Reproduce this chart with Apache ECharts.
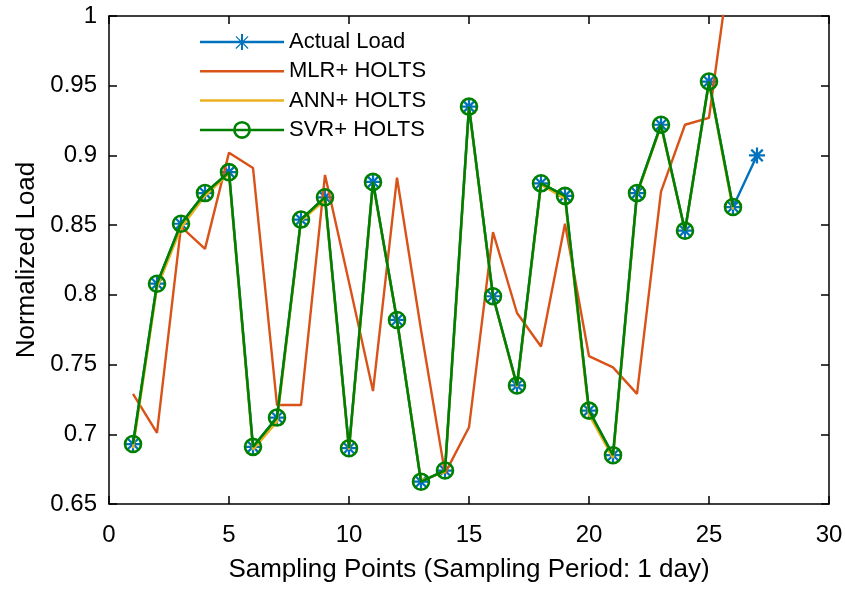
<!DOCTYPE html>
<html>
<head>
<meta charset="utf-8">
<script src="https://cdn.jsdelivr.net/npm/echarts@6/dist/echarts.min.js"></script>
<style>
html,body{margin:0;padding:0;background:#fff;}
#c{width:845px;height:589px;}
</style>
</head>
<body>
<div id="c"></div>
<script>
// Sampling points (x)
const samplePoints = [1,2,3,4,5,6,7,8,9,10,11,12,13,14,15,16,17,18,19,20,21,22,23,24,25,26,27];
// Actual load (27 points)
const actualLoad = [0.693,0.808,0.851,0.873,0.888,0.691,0.712,0.854,0.870,0.690,0.881,0.782,0.666,0.674,0.935,0.799,0.735,0.880,0.871,0.717,0.685,0.873,0.922,0.846,0.953,0.863,0.900];
// MLR + HOLTS forecast (26 points)
const mlrHolts = [0.729,0.701,0.849,0.833,0.902,0.891,0.721,0.721,0.886,0.809,0.731,0.884,0.775,0.672,0.705,0.845,0.787,0.763,0.851,0.756,0.748,0.729,0.874,0.922,0.927,1.052];
// ANN + HOLTS forecast (26 points)
const annHolts = [0.690,0.805,0.848,0.871,0.887,0.689,0.709,0.853,0.868,0.689,0.880,0.782,0.667,0.673,0.934,0.799,0.734,0.879,0.869,0.714,0.683,0.872,0.921,0.846,0.952,0.861];
// SVR + HOLTS forecast (26 points)
const svrHolts = [0.693,0.808,0.851,0.873,0.888,0.691,0.712,0.854,0.870,0.690,0.881,0.782,0.666,0.674,0.935,0.799,0.735,0.880,0.871,0.717,0.685,0.873,0.922,0.846,0.953,0.863];
// Axis ticks
const xTicks = [0,5,10,15,20,25,30];
const yTicks = [0.65,0.7,0.75,0.8,0.85,0.9,0.95,1];

const seriesNames = ['Actual Load','MLR+ HOLTS','ANN+ HOLTS','SVR+ HOLTS'];
const colors = ['#0072BD','#D95319','#EDB120','#008000'];

function pairs(vals){ return vals.map((v,i)=>[samplePoints[i], v]); }

const asterisk = 'path://M43 0L57 0L57 100L43 100Z M0 43L100 43L100 57L0 57Z M19 9L91 81L81 91L9 19Z M81 9L91 19L19 91L9 81Z';
// legend icons (84 x 18 box)
const legendBar = 'path://M0 0L84 0L84 2.5L0 2.5Z';
const legendAsterisk = 'path://M0 7.75L84 7.75L84 10.25L0 10.25Z ' +
  'M41 1L43 1L43 17L41 17Z M34 8L50 8L50 10L34 10Z ' +
  'M36.3 2.9L48.5 15.1L47.7 15.9L35.5 3.7Z M47.7 2.9L48.5 3.7L36.3 15.9L35.5 15.1Z';
const legendCircle = 'path://M0 7.75L84 7.75L84 10.25L0 10.25Z ' +
  'M33 9A9 9 0 1 1 51 9A9 9 0 1 1 33 9Z ' +
  'M35.6 9A6.4 6.4 0 1 0 48.4 9A6.4 6.4 0 1 0 35.6 9Z';

const FONT = 'Liberation Sans, Arial, Helvetica, sans-serif';
const chart = echarts.init(document.getElementById('c'), null, {renderer:'canvas'});

const axisCommonX = {
  type:'value', min:xTicks[0], max:xTicks[xTicks.length-1], interval:5,
  splitLine:{show:false},
  axisLine:{show:true, onZero:false, lineStyle:{color:'#000', width:1.5}},
  axisTick:{show:true, inside:true, length:8, lineStyle:{color:'#000', width:1.5}}
};
const axisCommonY = {
  type:'value', min:yTicks[0], max:yTicks[yTicks.length-1], interval:0.05,
  splitLine:{show:false},
  axisLine:{show:true, onZero:false, lineStyle:{color:'#000', width:1.5}},
  axisTick:{show:true, inside:true, length:8, lineStyle:{color:'#000', width:1.5}}
};

chart.setOption({
  animation:false,
  backgroundColor:'#fff',
  textStyle:{fontFamily:FONT},
  grid:{left:109, right:16, top:16, bottom:85, containLabel:false, outerBoundsMode:'none'},
  legend:{
    orient:'vertical', left:200, top:31, padding:0,
    itemWidth:84, itemHeight:18, itemGap:7.3,
    textStyle:{fontFamily:FONT, fontSize:22, color:'#000'},
    data:[
      {name:seriesNames[0], icon:legendAsterisk, itemStyle:{color:colors[0], borderWidth:0}},
      {name:seriesNames[1], icon:legendBar, itemStyle:{color:colors[1], borderWidth:0}},
      {name:seriesNames[2], icon:legendBar, itemStyle:{color:colors[2], borderWidth:0}},
      {name:seriesNames[3], icon:legendCircle, itemStyle:{color:colors[3], borderWidth:0}}
    ]
  },
  xAxis:[
    Object.assign({}, axisCommonX, {
      position:'bottom',
      name:'Sampling Points (Sampling Period: 1 day)', nameLocation:'middle', nameGap:53,
      nameTextStyle:{fontFamily:FONT, fontSize:26, color:'#000'},
      axisLabel:{show:true, margin:19, fontFamily:FONT, fontSize:24, color:'#000'}
    }),
    Object.assign({}, axisCommonX, {position:'top', axisLabel:{show:false}})
  ],
  yAxis:[
    Object.assign({}, axisCommonY, {
      position:'left',
      name:'Normalized Load', nameLocation:'middle', nameGap:69, nameRotate:90,
      nameTextStyle:{fontFamily:FONT, fontSize:26, color:'#000'},
      axisLabel:{show:true, margin:12, fontFamily:FONT, fontSize:24, color:'#000'}
    }),
    Object.assign({}, axisCommonY, {position:'right', axisLabel:{show:false}})
  ],
  series:[
    {
      name:seriesNames[0], type:'line', xAxisIndex:0, yAxisIndex:0,
      data:pairs(actualLoad), symbol:asterisk, symbolSize:16, showSymbol:true,
      itemStyle:{color:colors[0]}, lineStyle:{color:colors[0], width:2.4}, z:2
    },
    {
      name:seriesNames[1], type:'line', xAxisIndex:0, yAxisIndex:0,
      data:pairs(mlrHolts), symbol:'none', showSymbol:false,
      itemStyle:{color:colors[1]}, lineStyle:{color:colors[1], width:2.4}, z:3
    },
    {
      name:seriesNames[2], type:'line', xAxisIndex:0, yAxisIndex:0,
      data:pairs(annHolts), symbol:'none', showSymbol:false,
      itemStyle:{color:colors[2]}, lineStyle:{color:colors[2], width:2.4}, z:4
    },
    {
      name:seriesNames[3], type:'line', xAxisIndex:0, yAxisIndex:0,
      data:pairs(svrHolts), symbol:'circle', symbolSize:16, showSymbol:true,
      itemStyle:{color:'rgba(0,0,0,0)', borderColor:colors[3], borderWidth:2.6},
      lineStyle:{color:colors[3], width:2.6}, z:5
    }
  ]
});
</script>
</body>
</html>
